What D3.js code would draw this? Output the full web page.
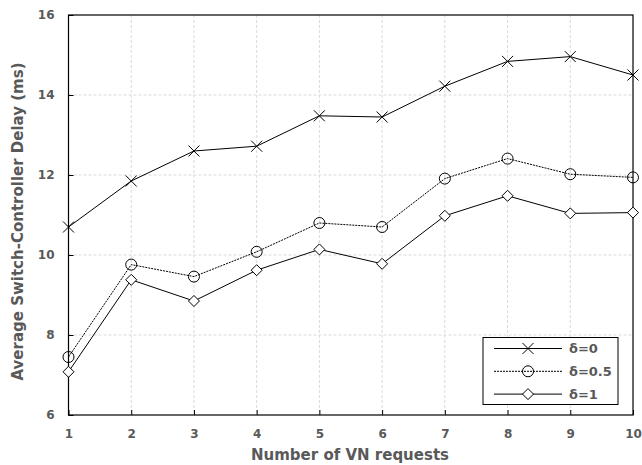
<!DOCTYPE html>
<html>
<head>
<meta charset="utf-8">
<script src="https://cdn.jsdelivr.net/npm/d3@7"></script>
<style>
  body { margin: 0; background: #fff; }
  .lbl { font-family: "DejaVu Sans", Verdana, sans-serif; font-weight: bold; fill: #595959; }
</style>
</head>
<body>
<div id="chart"></div>
<script>
// data
const requests = [1, 2, 3, 4, 5, 6, 7, 8, 9, 10];
const delta0 = [10.7, 11.85, 12.6, 12.72, 13.48, 13.45, 14.22, 14.84, 14.96, 14.5];
const delta05 = [7.45, 9.76, 9.46, 10.08, 10.8, 10.7, 11.91, 12.41, 12.02, 11.94];
const delta1 = [7.08, 9.38, 8.85, 9.62, 10.14, 9.78, 10.98, 11.48, 11.04, 11.06];
const yTicks = [6, 8, 10, 12, 14, 16];
const seriesNames = ["δ=0", "δ=0.5", "δ=1"];

const W = 642, H = 465;
const margin = {top: 15, right: 9, bottom: 50, left: 68.5};
const w = W - margin.left - margin.right;
const h = H - margin.top - margin.bottom;

const svg = d3.select("#chart").append("svg")
    .attr("width", W)
    .attr("height", H);

const g = svg.append("g")
    .attr("transform", `translate(${margin.left},${margin.top})`);

const x = d3.scaleLinear().domain([1, 10]).range([0, w]);
const y = d3.scaleLinear().domain([6, 16]).range([h, 0]);

// grid
g.selectAll(".vgrid").data(requests.slice(1, -1)).enter()
    .append("line")
    .attr("x1", d => x(d)).attr("x2", d => x(d))
    .attr("y1", 0).attr("y2", h)
    .attr("stroke", "#d9d9d9").attr("stroke-dasharray", "3,2");
g.selectAll(".hgrid").data(yTicks.slice(1, -1)).enter()
    .append("line")
    .attr("x1", 0).attr("x2", w)
    .attr("y1", d => y(d)).attr("y2", d => y(d))
    .attr("stroke", "#d9d9d9").attr("stroke-dasharray", "3,2");

// axes with inward ticks
const xAxis = g.append("g")
    .attr("transform", `translate(0,${h})`)
    .call(d3.axisBottom(x).tickValues(requests).tickSize(-5).tickPadding(14).tickFormat(d3.format("d")));
const yAxis = g.append("g")
    .call(d3.axisLeft(y).tickValues(yTicks).tickSize(-5).tickPadding(14));
[xAxis, yAxis].forEach(a => {
    a.select(".domain").remove();
    a.selectAll(".tick line").attr("stroke", "#000");
    a.selectAll("text").attr("class", "lbl").style("font-size", "12px").attr("fill", null);
});

// plot frame
g.append("rect")
    .attr("width", w).attr("height", h)
    .attr("fill", "none").attr("stroke", "#000").attr("stroke-width", 1.2);

const line = d3.line().x((d, i) => x(requests[i])).y(d => y(d));

const series = [
    {name: seriesNames[0], values: delta0, dash: null, marker: "x"},
    {name: seriesNames[1], values: delta05, dash: "2,1", marker: "o"},
    {name: seriesNames[2], values: delta1, dash: null, marker: "d"}
];

function drawMarker(sel, type, cx, cy) {
    if (type === "x") {
        sel.append("path")
            .attr("d", `M${cx - 5.5},${cy - 5.5}L${cx + 5.5},${cy + 5.5}M${cx - 5.5},${cy + 5.5}L${cx + 5.5},${cy - 5.5}`)
            .attr("stroke", "#000").attr("stroke-width", 1).attr("fill", "none");
    } else if (type === "o") {
        sel.append("circle")
            .attr("cx", cx).attr("cy", cy).attr("r", 5.5)
            .attr("fill", "none").attr("stroke", "#000").attr("stroke-width", 1);
    } else {
        sel.append("path")
            .attr("d", `M${cx},${cy - 5.5}L${cx + 5.5},${cy}L${cx},${cy + 5.5}L${cx - 5.5},${cy}Z`)
            .attr("fill", "#fff").attr("stroke", "#000").attr("stroke-width", 1);
    }
}

series.forEach(s => {
    g.append("path")
        .datum(s.values)
        .attr("d", line)
        .attr("fill", "none")
        .attr("stroke", "#000")
        .attr("stroke-width", 1)
        .attr("stroke-dasharray", s.dash);
    const mg = g.append("g");
    s.values.forEach((v, i) => drawMarker(mg, s.marker, x(requests[i]), y(v)));
});

// legend
const lg = svg.append("g").attr("transform", "translate(483,337.5)");
lg.append("rect")
    .attr("width", 135).attr("height", 67)
    .attr("fill", "#fff").attr("stroke", "#000").attr("stroke-width", 1);
series.forEach((s, i) => {
    const ly = 11 + i * 22.8;
    lg.append("line")
        .attr("x1", 11).attr("x2", 79).attr("y1", ly).attr("y2", ly)
        .attr("stroke", "#000").attr("stroke-width", 1)
        .attr("stroke-dasharray", s.dash);
    drawMarker(lg, s.marker, 45, ly);
    lg.append("text")
        .attr("class", "lbl")
        .attr("x", 86).attr("y", ly + 4.5)
        .style("font-size", "13px")
        .text(s.name);
});

// axis titles
svg.append("text")
    .attr("class", "lbl")
    .attr("x", 350).attr("y", 460)
    .attr("text-anchor", "middle")
    .style("font-size", "15px")
    .text("Number of VN requests");

svg.append("text")
    .attr("class", "lbl")
    .attr("transform", `translate(23,221.5) rotate(-90)`)
    .attr("text-anchor", "middle")
    .style("font-size", "15px")
    .text("Average Switch-Controller Delay (ms)");
</script>
</body>
</html>
